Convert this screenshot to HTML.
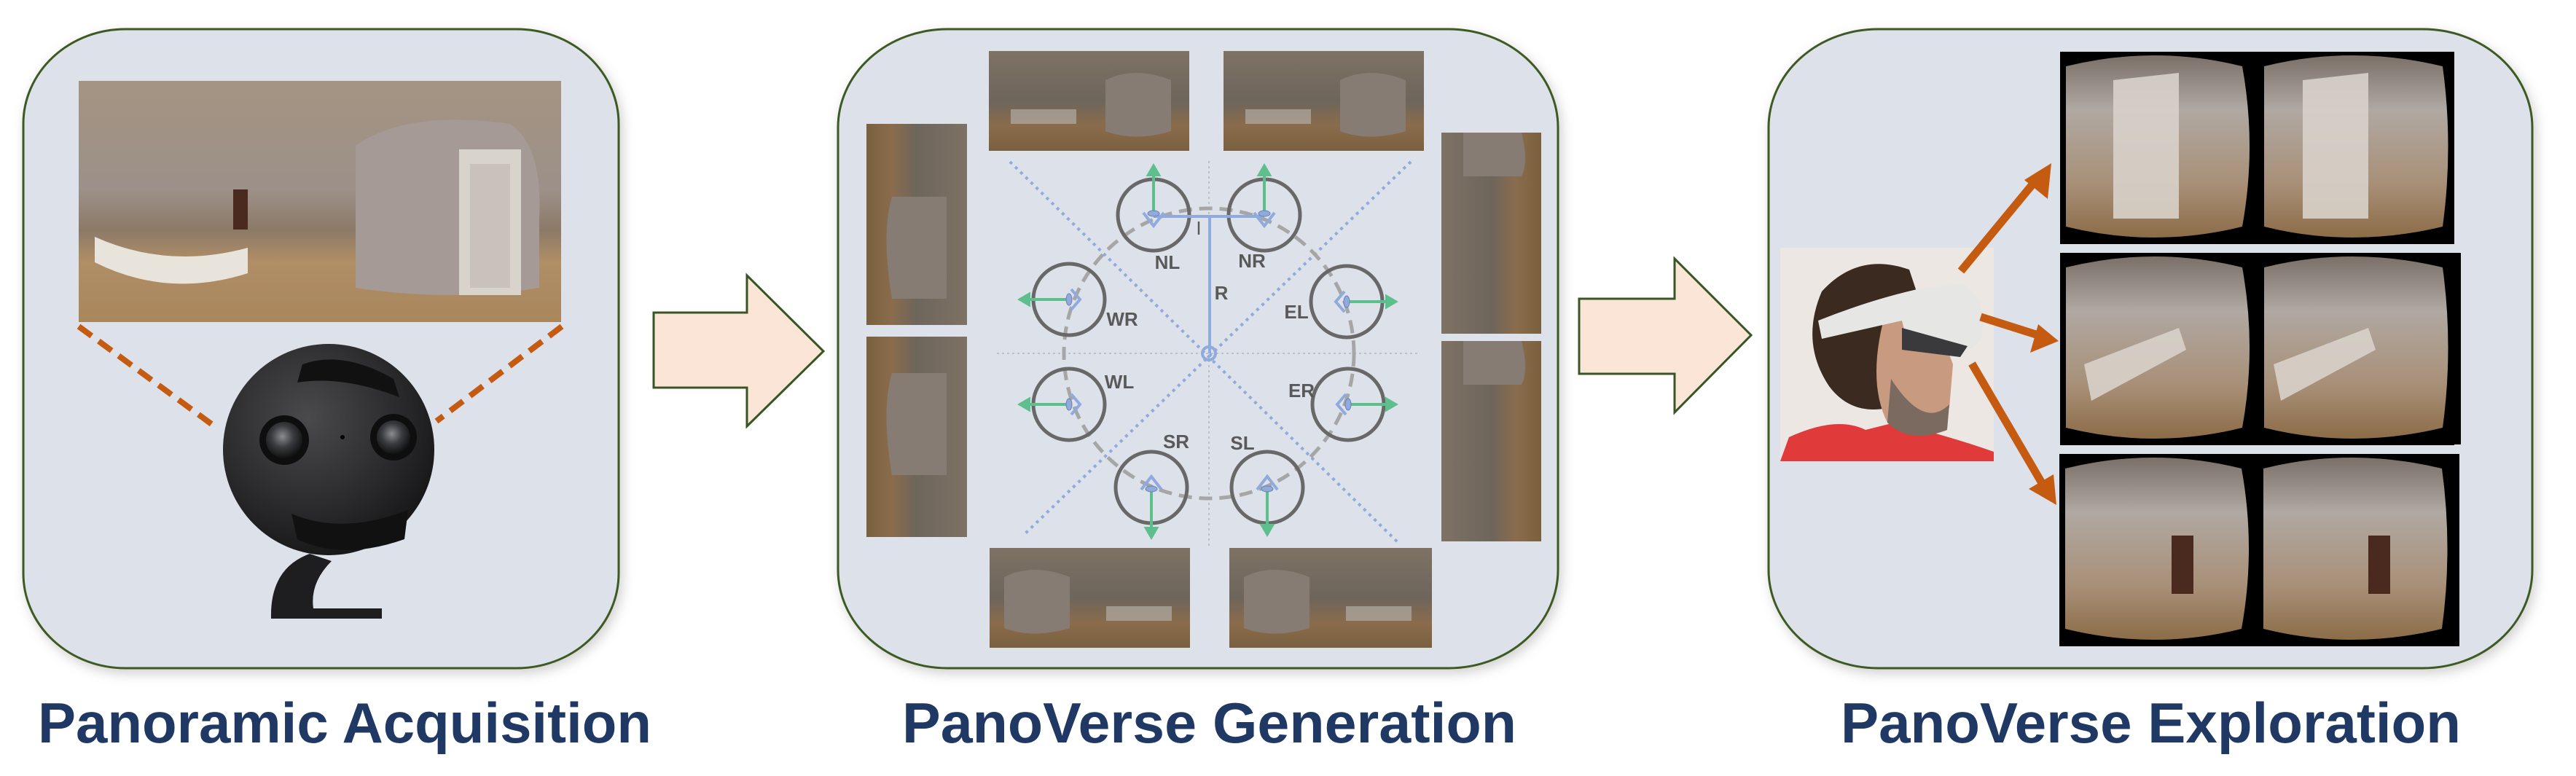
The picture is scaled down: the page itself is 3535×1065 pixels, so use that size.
<!DOCTYPE html>
<html><head><meta charset="utf-8"><style>html,body{margin:0;padding:0;background:#fff}svg{display:block}</style></head>
<body>
<svg width="3535" height="1065" viewBox="0 0 3535 1065" xmlns="http://www.w3.org/2000/svg">
<defs>
<linearGradient id="pano" x1="0" y1="0" x2="0" y2="1">
<stop offset="0" stop-color="#a49482"/><stop offset="0.45" stop-color="#9c9088"/><stop offset="0.62" stop-color="#8c7a68"/><stop offset="0.75" stop-color="#b08e66"/><stop offset="1" stop-color="#a9865c"/></linearGradient>
<linearGradient id="panoD" x1="0" y1="0" x2="0" y2="1">
<stop offset="0" stop-color="#7e7264"/><stop offset="0.5" stop-color="#6e655c"/><stop offset="0.75" stop-color="#8a6c4c"/><stop offset="1" stop-color="#7a603e"/></linearGradient>
<linearGradient id="panoV" x1="0" y1="0" x2="1" y2="0">
<stop offset="0" stop-color="#7e7264"/><stop offset="0.5" stop-color="#6e655c"/><stop offset="0.75" stop-color="#8a6c4c"/><stop offset="1" stop-color="#7a603e"/></linearGradient>
<linearGradient id="panoVR" x1="1" y1="0" x2="0" y2="0">
<stop offset="0" stop-color="#7e7264"/><stop offset="0.5" stop-color="#6e655c"/><stop offset="0.75" stop-color="#8a6c4c"/><stop offset="1" stop-color="#7a603e"/></linearGradient>
<radialGradient id="ball" cx="0.4" cy="0.35" r="0.7"><stop offset="0" stop-color="#4a4a4c"/><stop offset="0.7" stop-color="#262628"/><stop offset="1" stop-color="#151516"/></radialGradient>
<radialGradient id="lens" cx="0.45" cy="0.4" r="0.6"><stop offset="0" stop-color="#8a8c90"/><stop offset="0.5" stop-color="#3a3c40"/><stop offset="1" stop-color="#111"/></radialGradient>
<linearGradient id="vr" x1="0" y1="0" x2="0" y2="1">
<stop offset="0" stop-color="#7a7068"/><stop offset="0.3" stop-color="#b0a8a2"/><stop offset="0.7" stop-color="#a89078"/><stop offset="1" stop-color="#8c6c48"/></linearGradient>
<filter id="sh" x="-5%" y="-5%" width="110%" height="110%"><feDropShadow dx="4" dy="6" stdDeviation="8" flood-color="#000" flood-opacity="0.18"/></filter>
<g id="thumbH">
<rect width="275" height="137" fill="url(#panoD)"/>
<path d="M160 40 Q200 20 250 40 L250 110 Q200 125 160 110Z" fill="#877c74"/>
<rect x="30" y="80" width="90" height="20" fill="#b0aca4" opacity="0.7"/>
</g>
<g id="vrpair">
<rect width="541" height="264" fill="#000"/>
<path d="M8 20 Q130 -10 250 20 Q270 130 250 240 Q130 270 8 240Z" fill="url(#vr)"/>
<path d="M280 20 Q400 -10 525 20 Q540 130 525 240 Q400 270 280 240Z" fill="url(#vr)"/>
</g>
</defs>

<rect x="32" y="40" width="817" height="877" rx="140" ry="130" fill="#dde1e9" stroke="#3d5a21" stroke-width="3" filter="url(#sh)"/>
<rect x="108" y="111" width="662" height="331" fill="url(#pano)"/>
<path d="M488 200 Q560 150 700 170 Q745 200 740 300 L740 395 Q620 415 488 395Z" fill="#a59a95"/>
<rect x="630" y="205" width="85" height="200" fill="#d8d4cc"/>
<rect x="645" y="225" width="55" height="170" fill="#c8c2ba"/>
<path d="M130 325 Q230 370 340 340 L340 375 Q230 410 130 360Z" fill="#e8e4dc"/>
<rect x="320" y="260" width="20" height="55" fill="#4a2a1e"/>
<line x1="108" y1="448" x2="293" y2="584" stroke="#c55a11" stroke-width="8" stroke-dasharray="22 12"/>
<line x1="771" y1="448" x2="599" y2="578" stroke="#c55a11" stroke-width="8" stroke-dasharray="22 12"/>
<path d="M425 760 Q370 780 372 849 L524 849 L524 835 L430 835 Q425 800 455 770Z" fill="#1e1e20"/>
<circle cx="451" cy="617" r="145" fill="url(#ball)"/>
<path d="M415 500 Q470 480 540 520 L548 545 Q470 515 408 525Z" fill="#111"/>
<path d="M400 705 Q470 735 560 700 L555 740 Q470 770 408 740Z" fill="#111"/>
<circle cx="390" cy="604" r="34" fill="#0e0e0e"/><circle cx="390" cy="604" r="25" fill="url(#lens)"/>
<circle cx="540" cy="600" r="32" fill="#0e0e0e"/><circle cx="540" cy="600" r="23" fill="url(#lens)"/>
<circle cx="470" cy="600" r="3" fill="#000"/>

<path d="M897 429 L1025 429 L1025 378 L1130 482 L1025 585 L1025 532 L897 532Z" fill="#fbe5d6" stroke="#375623" stroke-width="3"/>

<rect x="1150" y="40" width="988" height="877" rx="150" ry="135" fill="#dde1e9" stroke="#3d5a21" stroke-width="3" filter="url(#sh)"/>
<use href="#thumbH" x="1357" y="70"/>
<use href="#thumbH" x="1679" y="70"/>
<g transform="translate(1358,752)"><rect width="275" height="137" fill="url(#panoD)"/><path d="M20 40 Q60 20 110 40 L110 110 Q60 125 20 110Z" fill="#877c74"/><rect x="160" y="80" width="90" height="20" fill="#b0aca4" opacity="0.7"/></g>
<g transform="translate(1687,752)"><rect width="278" height="137" fill="url(#panoD)"/><path d="M20 40 Q60 20 110 40 L110 110 Q60 125 20 110Z" fill="#877c74"/><rect x="160" y="80" width="90" height="20" fill="#b0aca4" opacity="0.7"/></g>
<g transform="translate(1189,170)"><rect width="138" height="276" fill="url(#panoVR)"/><path d="M35 100 Q20 150 35 240 L110 240 L110 100Z" fill="#877c74"/></g>
<g transform="translate(1189,462)"><rect width="138" height="275" fill="url(#panoVR)"/><path d="M35 50 Q20 100 35 190 L110 190 L110 50Z" fill="#877c74"/></g>
<g transform="translate(1978,182)"><rect width="137" height="276" fill="url(#panoV)"/><path d="M30 0 L110 0 Q120 40 110 60 L30 60Z" fill="#877c74"/></g>
<g transform="translate(1978,468)"><rect width="137" height="275" fill="url(#panoV)"/><path d="M30 0 L110 0 Q120 40 110 60 L30 60Z" fill="#877c74"/></g>

<line x1="1368" y1="485" x2="1949" y2="485" stroke="#b0b4bc" stroke-width="1.5" stroke-dasharray="3 4"/>
<line x1="1659" y1="221" x2="1659" y2="750" stroke="#b0b4bc" stroke-width="1.5" stroke-dasharray="3 4"/>
<line x1="1386" y1="222" x2="1919" y2="745" stroke="#8faadc" stroke-width="4" stroke-dasharray="4 6"/>
<line x1="1936" y1="222" x2="1404" y2="735" stroke="#8faadc" stroke-width="4" stroke-dasharray="4 6"/>
<circle cx="1659" cy="485" r="199" fill="none" stroke="#a6a6a6" stroke-width="5" stroke-dasharray="18 10"/>
<g fill="none" stroke="#686868" stroke-width="5">
<circle cx="1583" cy="295" r="49"/><circle cx="1735" cy="295" r="49"/>
<circle cx="1467" cy="411" r="49"/><circle cx="1848" cy="414" r="49"/>
<circle cx="1467" cy="555" r="49"/><circle cx="1850" cy="555" r="49"/>
<circle cx="1580" cy="669" r="49"/><circle cx="1739" cy="669" r="49"/>
</g>
<g stroke="#5cbf8c" stroke-width="4" fill="#5cbf8c">
<line x1="1583" y1="292" x2="1583" y2="238"/><path d="M1576 240 L1583 228 L1590 240Z"/>
<line x1="1735" y1="292" x2="1735" y2="238"/><path d="M1728 240 L1735 228 L1742 240Z"/>
<line x1="1467" y1="411" x2="1410" y2="411"/><path d="M1412 404 L1400 411 L1412 418Z"/>
<line x1="1848" y1="414" x2="1905" y2="414"/><path d="M1903 407 L1915 414 L1903 421Z"/>
<line x1="1467" y1="555" x2="1410" y2="555"/><path d="M1412 548 L1400 555 L1412 562Z"/>
<line x1="1850" y1="555" x2="1905" y2="555"/><path d="M1903 548 L1915 555 L1903 562Z"/>
<line x1="1580" y1="669" x2="1580" y2="727"/><path d="M1573 725 L1580 737 L1587 725Z"/>
<line x1="1739" y1="669" x2="1739" y2="723"/><path d="M1732 721 L1739 733 L1746 721Z"/>
</g>
<g fill="none" stroke="#8faadc" stroke-width="4">
<path d="M1569 292 L1583 310 L1597 292"/><path d="M1721 292 L1735 310 L1749 292"/>
<path d="M1470 397 L1482 411 L1470 425"/><path d="M1845 400 L1833 414 L1845 428"/>
<path d="M1470 541 L1482 555 L1470 569"/><path d="M1847 541 L1835 555 L1847 569"/>
<path d="M1566 672 L1580 654 L1594 672"/><path d="M1725 672 L1739 654 L1753 672"/>
<polyline points="1583,297 1735,297"/><polyline points="1660,297 1660,485"/>
<circle cx="1659" cy="485" r="9"/>
</g>
<g fill="#8faadc" stroke="#6b82b0" stroke-width="1">
<ellipse cx="1583" cy="293" rx="8" ry="4"/><ellipse cx="1735" cy="293" rx="8" ry="4"/>
<ellipse cx="1467" cy="411" rx="4" ry="8"/><ellipse cx="1848" cy="414" rx="4" ry="8"/>
<ellipse cx="1467" cy="555" rx="4" ry="8"/><ellipse cx="1850" cy="555" rx="4" ry="8"/>
<ellipse cx="1580" cy="671" rx="8" ry="4"/><ellipse cx="1739" cy="671" rx="8" ry="4"/>
</g>
<g font-family="Liberation Sans, sans-serif" font-weight="bold" font-size="26" fill="#595959" text-anchor="middle">
<text x="1645" y="322" font-weight="normal">I</text>
<text x="1676" y="411">R</text>
<text x="1602" y="369">NL</text><text x="1718" y="367">NR</text>
<text x="1540" y="447">WR</text><text x="1779" y="437">EL</text>
<text x="1536" y="533">WL</text><text x="1786" y="545">ER</text>
<text x="1614" y="615">SR</text><text x="1705" y="617">SL</text>
</g>

<path d="M2167 410 L2298 410 L2298 355 L2403 460 L2298 566 L2298 513 L2167 513Z" fill="#fbe5d6" stroke="#375623" stroke-width="3"/>

<rect x="2427" y="40" width="1048" height="877" rx="150" ry="135" fill="#dde1e9" stroke="#3d5a21" stroke-width="3" filter="url(#sh)"/>
<rect x="2443" y="340" width="293" height="293" fill="#ece7e2"/>
<path d="M2443 633 L2455 600 Q2520 570 2560 590 L2600 580 Q2680 600 2736 620 L2736 633Z" fill="#e03a3a"/>
<path d="M2500 400 Q2550 345 2620 370 L2640 430 L2600 520 L2590 560 Q2540 570 2510 530 Q2470 470 2500 400Z" fill="#3a2a20"/>
<path d="M2590 420 L2650 420 L2680 500 L2675 560 Q2620 600 2590 580 Q2560 520 2590 420Z" fill="#c89a80"/>
<path d="M2595 520 Q2640 590 2675 555 L2672 590 Q2620 610 2590 580Z" fill="#7a6a60"/>
<path d="M2495 440 Q2570 410 2640 395 L2690 390 Q2720 400 2722 440 Q2722 475 2700 480 L2620 480 L2610 440 L2500 465Z" fill="#e6e6e4"/>
<path d="M2610 450 L2700 475 L2690 490 L2610 480Z" fill="#3a3a3c"/>
<g stroke="#c55a11" stroke-width="11" fill="#c55a11">
<line x1="2691" y1="372" x2="2795" y2="246"/><line x1="2718" y1="435" x2="2800" y2="461"/><line x1="2706" y1="499" x2="2805" y2="668"/>
</g>
<g fill="#c55a11">
<path d="M2815 224 L2810 273 L2778 247Z"/>
<path d="M2825 468 L2786 484 L2797 445Z"/>
<path d="M2822 693 L2784 671 L2818 651Z"/>
</g>
<use href="#vrpair" x="2827" y="71"/>
<use href="#vrpair" x="2827" y="347"/>
<use href="#vrpair" x="2826" y="623"/>
<rect x="3368" y="347" width="9" height="263" fill="#000"/>
<rect x="3367" y="623" width="8" height="264" fill="#000"/>
<g fill="#d8d2ca" opacity="0.9">
<path d="M2900 110 L2990 100 L2990 300 L2900 300Z"/><path d="M3160 110 L3250 100 L3250 300 L3160 300Z"/>
<path d="M2860 500 L2990 450 L3000 480 L2870 550Z"/><path d="M3120 500 L3250 450 L3260 480 L3130 550Z"/>
</g>
<g fill="#4a2a1e"><rect x="2980" y="735" width="30" height="80"/><rect x="3250" y="735" width="30" height="80"/></g>

<g font-family="Liberation Sans, sans-serif" font-weight="bold" font-size="78" fill="#1f3864">
<text x="52" y="1019" textLength="842" lengthAdjust="spacingAndGlyphs">Panoramic Acquisition</text>
<text x="1238" y="1019" textLength="843" lengthAdjust="spacingAndGlyphs">PanoVerse Generation</text>
<text x="2526" y="1019" textLength="851" lengthAdjust="spacingAndGlyphs">PanoVerse Exploration</text>
</g>
</svg>
</body></html>
